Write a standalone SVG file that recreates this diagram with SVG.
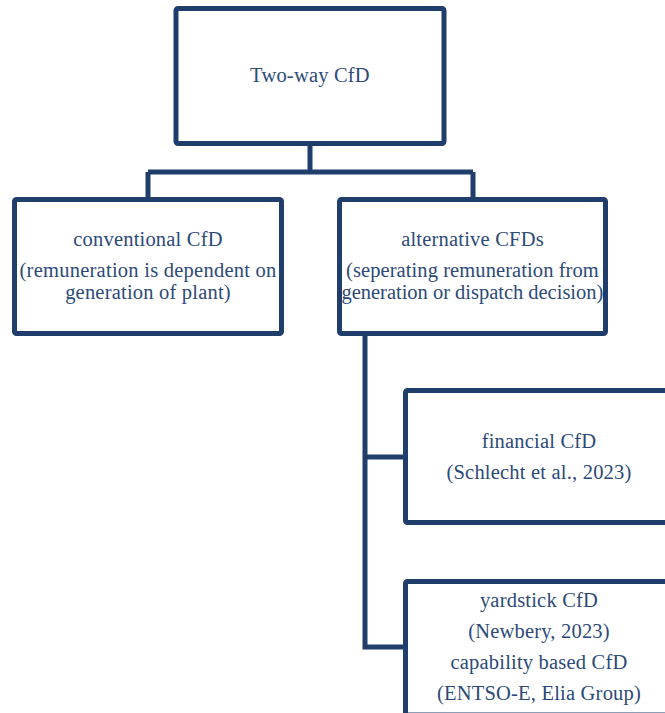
<svg xmlns="http://www.w3.org/2000/svg" width="665" height="713" viewBox="0 0 665 713">
<style>
.box{fill:#ffffff;stroke:#1f3e6c;stroke-width:5;}
.con{fill:none;stroke:#1f3e6c;stroke-width:5;stroke-linejoin:miter;}
text{font-family:"Liberation Serif","Times New Roman",serif;font-size:20.5px;fill:#2c4a78;text-anchor:middle;letter-spacing:0.2px;}
</style>
<rect width="665" height="713" fill="#ffffff"/>
<g id="connectors">
<path class="con" d="M310,144 V172 M148,172 H473 M148,172 V199 M473,172 V199"/>
<path class="con" d="M365,334 V647 H405 M365,457 H405"/>
</g>
<g id="node-twoway">
<rect class="box" x="176" y="8.5" width="268" height="135" rx="2"/>
<text x="310" y="82">Two-way CfD</text>
</g>
<g id="node-conventional">
<rect class="box" x="14.5" y="199.5" width="267" height="134" rx="2"/>
<text x="148" y="246">conventional CfD</text>
<text x="148" y="277" textLength="257" lengthAdjust="spacing">(remuneration is dependent on</text>
<text x="148" y="299">generation of plant)</text>
</g>
<g id="node-alternative">
<rect class="box" x="339.5" y="199.5" width="266" height="134" rx="2"/>
<text x="472.5" y="246">alternative CFDs</text>
<text x="472.5" y="277" textLength="253" lengthAdjust="spacing">(seperating remuneration from</text>
<text x="472.5" y="299" textLength="262" lengthAdjust="spacing">generation or dispatch decision)</text>
</g>
<g id="node-financial">
<rect class="box" x="405.5" y="390.5" width="290" height="132" rx="2"/>
<text x="539" y="448">financial CfD</text>
<text x="539" y="479">(Schlecht et al., 2023)</text>
</g>
<g id="node-yardstick">
<rect class="box" x="405.5" y="581.5" width="290" height="133.5" rx="2"/>
<text x="539" y="607">yardstick CfD</text>
<text x="539" y="638">(Newbery, 2023)</text>
<text x="539" y="669">capability based CfD</text>
<text x="539" y="700">(ENTSO-E, Elia Group)</text>
</g>
</svg>
